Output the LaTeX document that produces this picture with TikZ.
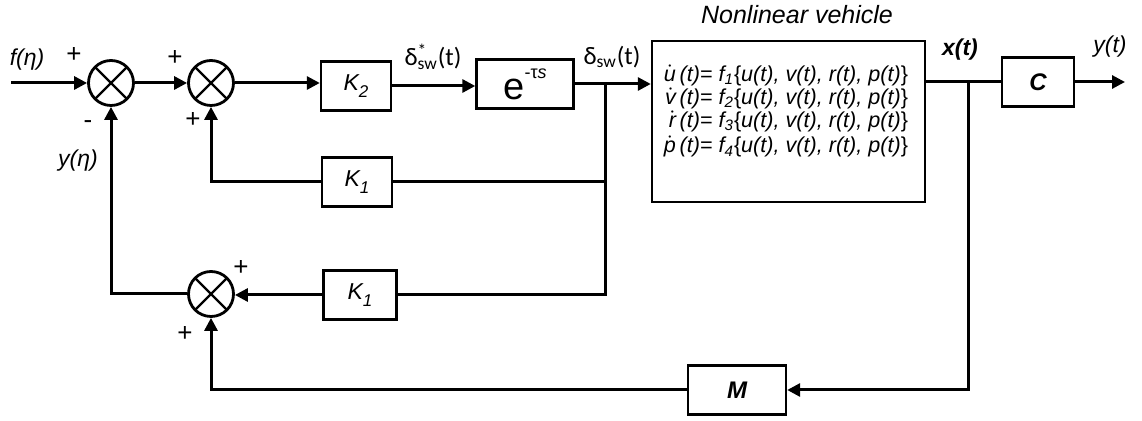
\documentclass[tikz,border=0pt]{standalone}
\usepackage{fontspec}
\setmainfont{Liberation Sans}
\newfontfamily\calfont{Carlito}
\usetikzlibrary{arrows.meta}
\newcommand{\gainlbl}[1]{K\raisebox{-0.55ex}{\fontsize{8.5}{9}\selectfont\itshape #1}}
\newcommand{\dotvar}[1]{$\dot{\mbox{\itshape #1}}$\,}
\tikzset{block/.style={draw,line width=1.2pt,minimum width=#1,minimum height=24.5pt,inner sep=0pt,
        font=\fontsize{11.5}{13}\selectfont\itshape},
    block/.default=35pt,
    sumnode/.style={circle,draw,line width=1.4pt,minimum size=22.5pt,inner sep=0pt,
        path picture={
            \draw[line width=1.2pt] (path picture bounding box.north west) -- (path picture bounding box.south east);
            \draw[line width=1.2pt] (path picture bounding box.north east) -- (path picture bounding box.south west);
        }},
    sig/.style={line width=1.5pt},
    sigarrow/.style={sig,-{Triangle[length=6.5pt,width=6.5pt]}},
    lbl/.style={font=\fontsize{11.5}{13}\selectfont\itshape,inner sep=0pt},
    sgn/.style={font=\fontsize{13}{14}\selectfont,inner sep=0pt}}

\begin{document}
\begin{tikzpicture}[x=0.5pt,y=-0.5pt]
      \useasboundingbox (0,0) rectangle (1142,421);
      % summing junctions
      \node[sumnode] (sumA) at (111,83) {};
      \node[sumnode] (sumB) at (211,83) {};
      \node[sumnode] (sumC) at (211,294) {};
      % blocks
      \node[block] (kTwo) at (356,86) {\gainlbl{2}};
      \node[block=48.5pt,font=\fontsize{19}{20}\selectfont] (delay) at (525,84) {e\raisebox{1.05ex}{\fontsize{9}{9}\selectfont -τ\textit{s}}};
      \node[block] (kOneA) at (357,182) {\gainlbl{1}};
      \node[block=36.5pt] (kOneB) at (360,295) {\gainlbl{1}};
      \node[block=36pt,font=\fontsize{12}{13}\selectfont\bfseries\itshape] (cBox) at (1038,82) {C};
      \node[block=49pt,font=\fontsize{12}{13}\selectfont\bfseries\itshape] (mBox) at (737,390) {M};
      \node[draw,line width=1.2pt,minimum width=136.5pt,minimum height=80.5pt] (vehicle) at (788.5,121.5) {};
      \node[align=right,inner sep=0pt,font=\fontsize{10.8}{10.5}\selectfont\itshape] (vehEqs) at (786,111) {%
        \dotvar{u}(t)= f\textsubscript{1}\textup{\{}u(t), v(t), r(t), p(t)\textup{\}}\\
        \dotvar{v}(t)= f\textsubscript{2}\textup{\{}u(t), v(t), r(t), p(t)\textup{\}}\\
        \dotvar{r}(t)= f\textsubscript{3}\textup{\{}u(t), v(t), r(t), p(t)\textup{\}}\\[1pt]
        \dotvar{p}(t)= f\textsubscript{4}\textup{\{}u(t), v(t), r(t), p(t)\textup{\}}};
      % labels
      \node[lbl,font=\fontsize{12.5}{14}\selectfont\itshape] (vehTitle) at (797,15) {Nonlinear vehicle};
      \node[lbl] (fLbl) at (27,60) {f(η)};
      \node[lbl] (yEtaLbl) at (78,161) {y(η)};
      \node[lbl,font=\fontsize{11.5}{13}\selectfont\bfseries\itshape] (xLbl) at (960,50) {x(t)};
      \node[lbl] (yLbl) at (1110,47) {y(t)};
      \node[inner sep=0pt,font=\fontsize{12.5}{14}\calfont] (dStarLbl) at (433,57) {δ\rlap{\textsuperscript{*}}\textsubscript{sw}(t)};
      \node[inner sep=0pt,font=\fontsize{12.5}{14}\calfont] (dLbl) at (612,57) {δ\textsubscript{sw}(t)};
      \node[sgn] at (74,55) {+};
      \node[sgn] at (88,125) {-};
      \node[sgn] at (175,58) {+};
      \node[sgn] at (193,120) {+};
      \node[sgn] at (241,268) {+};
      \node[sgn] at (185,334) {+};
      % branch points
      \coordinate (inStart) at (11,83);
      \coordinate (brDelta) at (605,84);
      \coordinate (brState) at (968,82);
      \coordinate (yEnd) at (1125,82);
      % forward path
      \draw[sigarrow] (inStart) -- (sumA.west);
      \draw[sigarrow] (sumA.east) -- (sumB.west);
      \draw[sigarrow] (sumB.east) -- (sumB.east -| kTwo.west);
      \draw[sigarrow] (kTwo.east) -- (kTwo.east -| delay.west);
      \draw[sigarrow] (delay.east) -- (delay.east -| vehicle.west);
      \draw[sig] (vehicle.east |- cBox.west) -- (cBox.west);
      \draw[sigarrow] (cBox.east) -- (yEnd);
      % feedback paths
      \draw[sig] (brDelta) |- (kOneA.east);
      \draw[sig] (brDelta) |- (kOneB.east);
      \draw[sigarrow] (kOneA.west) -| (sumB.south);
      \draw[sigarrow] (kOneB.west) -- (kOneB.west -| sumC.east);
      \draw[sigarrow] (sumC.west) -| (sumA.south);
      \draw[sigarrow] (brState) |- (mBox.east);
      \draw[sigarrow] (mBox.west) -| (sumC.south);
\end{tikzpicture}
\end{document}
